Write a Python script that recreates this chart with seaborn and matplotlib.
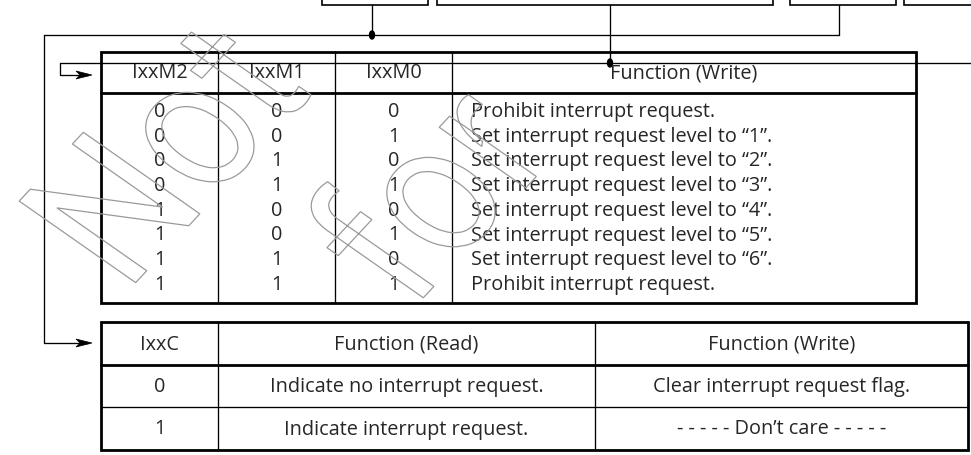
import matplotlib

matplotlib.use("Agg")

import numpy as np
import matplotlib.pyplot as plt
import seaborn as sns
from matplotlib.patches import Ellipse, PathPatch, Polygon, Rectangle
from matplotlib.textpath import TextPath
from matplotlib.font_manager import FontProperties
from matplotlib.transforms import Affine2D

# ---- table contents ----
mode_header = ["IxxM2", "IxxM1", "IxxM0", "Function (Write)"]
m2_bits = [0, 0, 0, 0, 1, 1, 1, 1]
m1_bits = [0, 0, 1, 1, 0, 0, 1, 1]
m0_bits = [0, 1, 0, 1, 0, 1, 0, 1]
mode_function = [
    "Prohibit interrupt request.",
    "Set interrupt request level to \u201c1\u201d.",
    "Set interrupt request level to \u201c2\u201d.",
    "Set interrupt request level to \u201c3\u201d.",
    "Set interrupt request level to \u201c4\u201d.",
    "Set interrupt request level to \u201c5\u201d.",
    "Set interrupt request level to \u201c6\u201d.",
    "Prohibit interrupt request.",
]

flag_header = ["IxxC", "Function (Read)", "Function (Write)"]
c_bits = [0, 1]
flag_read = ["Indicate no interrupt request.", "Indicate interrupt request."]
flag_write = ["Clear interrupt request flag.", "- - - - - Don\u2019t care - - - - -"]

watermark_lines = ["Not", "for"]

sns.set_theme(style="white")
plt.rcParams["font.family"] = ["Open Sans", "DejaVu Sans"]

W, H = 971, 455
fig = plt.figure(figsize=(W / 100, H / 100), dpi=100)
ax = fig.add_axes([0, 0, 1, 1])
ax.set_xlim(0, W)
ax.set_ylim(H, 0)
ax.axis("off")

thin = 0.95
thick = 2.0
fs = 14.3
ink = "black"

# ---- register boxes at the top (cut off by the crop) ----
for x0, x1 in [(322, 428), (437, 773), (790, 896), (904, 990)]:
    ax.add_patch(Rectangle((x0, -20), x1 - x0, 25, fill=False, lw=1.2, ec=ink))

# ---- wiring ----
def arrow_head(ax, x, y):
    ax.add_patch(Polygon([[x, y], [x - 16, y - 4], [x - 12, y], [x - 16, y + 4]],
                         closed=True, fc=ink, ec=ink, lw=0.5))

# IxxC wire
ax.plot([372, 372], [5, 35], color=ink, lw=thin)
ax.plot([839, 839], [5, 35], color=ink, lw=thin)
ax.plot([44, 839], [35, 35], color=ink, lw=thin)
ax.plot([44, 44, 88], [35, 343, 343], color=ink, lw=thin)
arrow_head(ax, 92, 343)
ax.add_patch(Ellipse((372, 35), 5, 8, fc=ink, ec=ink))

# IxxM wire
ax.plot([610, 610], [5, 63], color=ink, lw=thin)
ax.plot([60, W + 5], [63, 63], color=ink, lw=thin)
ax.plot([60, 60, 88], [63, 75, 75], color=ink, lw=thin)
arrow_head(ax, 92, 75)
ax.add_patch(Ellipse((610, 63), 5, 8, fc=ink, ec=ink))

# ---- mode table ----
L, T, R, B = 101, 52, 916, 303
hdr_y = 93
cols = [L, 218, 335, 452, R]
ax.add_patch(Rectangle((L, T), R - L, B - T, fill=False, lw=thick, ec=ink))
ax.plot([L, R], [hdr_y, hdr_y], color=ink, lw=thick)
for cx in cols[1:-1]:
    ax.plot([cx, cx], [T, B], color=ink, lw=thin)

for i, label in enumerate(mode_header):
    ax.text((cols[i] + cols[i + 1]) / 2, (T + hdr_y) / 2 + 1, label,
            ha="center", va="center", fontsize=fs)

row0, step = 112, 24.7
for r in range(len(m2_bits)):
    y = row0 + r * step
    for i, bits in enumerate([m2_bits, m1_bits, m0_bits]):
        ax.text((cols[i] + cols[i + 1]) / 2, y, str(bits[r]),
                ha="center", va="center", fontsize=fs)
    ax.text(471, y, mode_function[r], ha="left", va="center", fontsize=fs)

# ---- flag table ----
L2, T2, R2, B2 = 101, 322, 968, 450
h2 = 365
mid2 = 407
cols2 = [L2, 218, 595, R2]
ax.add_patch(Rectangle((L2, T2), R2 - L2, B2 - T2, fill=False, lw=thick, ec=ink))
ax.plot([L2, R2], [h2, h2], color=ink, lw=thick)
ax.plot([L2, R2], [mid2, mid2], color=ink, lw=thin)
for cx in cols2[1:-1]:
    ax.plot([cx, cx], [T2, B2], color=ink, lw=thin)

for i, label in enumerate(flag_header):
    ax.text((cols2[i] + cols2[i + 1]) / 2, (T2 + h2) / 2 + 1, label,
            ha="center", va="center", fontsize=fs)
row_mid = [(h2 + mid2) / 2, (mid2 + B2) / 2]
for r, c in enumerate(c_bits):
    y = row_mid[r] + 1
    ax.text((cols2[0] + cols2[1]) / 2, y, str(c), ha="center", va="center", fontsize=fs)
    ax.text((cols2[1] + cols2[2]) / 2, y, flag_read[r], ha="center", va="center", fontsize=fs)
    ax.text((cols2[2] + cols2[3]) / 2, y, flag_write[r], ha="center", va="center", fontsize=fs)

# ---- outlined watermark (slanted, slightly condensed) ----
wm_font = FontProperties(family=["Roboto", "DejaVu Sans"], weight="normal")
base_ang, up_ang, squeeze = np.radians(47), np.radians(145), 0.86
bx, by = squeeze * np.cos(base_ang), squeeze * np.sin(base_ang)
ux, uy = np.cos(up_ang), np.sin(up_ang)
for line, (px, py) in zip(watermark_lines, [(126, 293), (410, 312)]):
    tp = TextPath((0, 0), line, size=200, prop=wm_font)
    tr = Affine2D(np.array([[bx, ux, px], [-by, -uy, py], [0, 0, 1]])) + ax.transData
    ax.add_patch(PathPatch(tp, fill=False, ec="#9a9a9a", lw=0.9, transform=tr, zorder=5))

fig.savefig("out.png", dpi=100)
